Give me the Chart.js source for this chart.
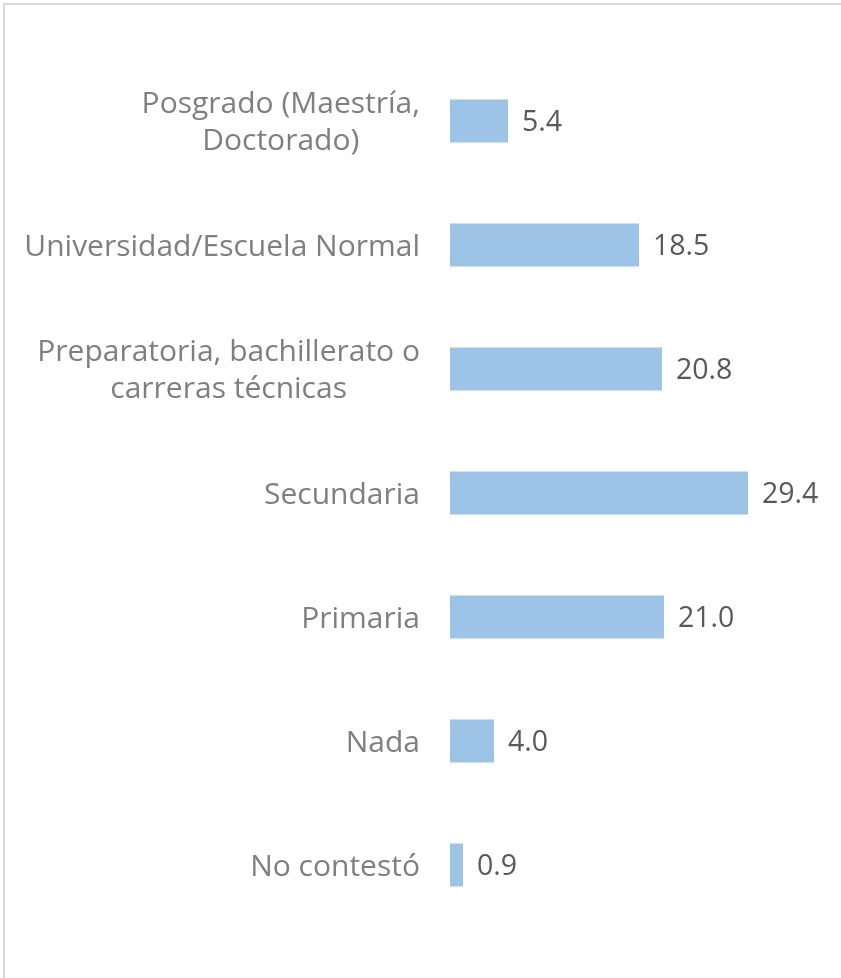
<!DOCTYPE html>
<html>
<head>
<meta charset="utf-8">
<script src="https://cdn.jsdelivr.net/npm/chart.js@4"></script>
<style>
  body { margin: 0; background: #fff; }
  .wrap { position: relative; width: 841px; height: 978px; overflow: hidden; }
  .frame { position: absolute; left: 3px; top: 3px; width: 900px; height: 1000px;
           border-left: 2px solid #d9d9d9; border-top: 2px solid #d9d9d9; }
  canvas { position: absolute; left: 0; top: 0; }
</style>
</head>
<body>
<div class="wrap">
  <div class="frame"></div>
  <canvas id="chart" width="841" height="978"></canvas>
</div>
<script>
// categories, top to bottom
const categories = [
    ['Posgrado (Maestría,', 'Doctorado)'],
    ['Universidad/Escuela Normal'],
    ['Preparatoria, bachillerato o', 'carreras técnicas'],
    ['Secundaria'],
    ['Primaria'],
    ['Nada'],
    ['No contestó']
];
const values = [5.4, 18.5, 20.8, 29.4, 21.0, 4.0, 0.9];
const valueLabels = ['5.4', '18.5', '20.8', '29.4', '21.0', '4.0', '0.9'];

const FONT = '"Open Sans", sans-serif';

// draws the category labels (block right-aligned, lines centred like Excel)
// and the value labels at the bar ends
const labelPlugin = {
    id: 'labels',
    afterDatasetsDraw(chart) {
        const ctx = chart.ctx;
        const yScale = chart.scales.y;
        const meta = chart.getDatasetMeta(0);
        ctx.save();
        ctx.textBaseline = 'middle';

        ctx.font = '30px ' + FONT;
        ctx.fillStyle = '#7f7f7f';
        ctx.textAlign = 'center';
        const lineH = 37;
        const rightEdge = 420;
        categories.forEach((lines, i) => {
            const cy = yScale.getPixelForTick(i) + 2;
            const w = Math.max(...lines.map(l => ctx.measureText(l).width));
            const cx = rightEdge - w / 2;
            const y0 = cy - (lines.length - 1) * lineH / 2;
            lines.forEach((l, j) => ctx.fillText(l, cx, y0 + j * lineH));
        });

        ctx.font = '28.5px ' + FONT;
        ctx.fillStyle = '#595959';
        ctx.textAlign = 'left';
        meta.data.forEach((bar, i) => {
            ctx.fillText(valueLabels[i], bar.x + 14, bar.y + 2);
        });
        ctx.restore();
    }
};

new Chart(document.getElementById('chart').getContext('2d'), {
    type: 'bar',
    data: {
        labels: categories.map(c => c.join(' ')),
        datasets: [{
            data: values,
            backgroundColor: '#9dc3e6',
            borderWidth: 0,
            base: -0.4,
            categoryPercentage: 1,
            barPercentage: 0.347
        }]
    },
    options: {
        indexAxis: 'y',
        responsive: false,
        animation: false,
        layout: {
            padding: { left: 450, right: 7, top: 59, bottom: 51 }
        },
        scales: {
            x: { display: false, min: -0.4, max: 38 },
            y: { display: false }
        },
        plugins: {
            legend: { display: false },
            tooltip: { enabled: false }
        }
    },
    plugins: [labelPlugin]
});
</script>
</body>
</html>
